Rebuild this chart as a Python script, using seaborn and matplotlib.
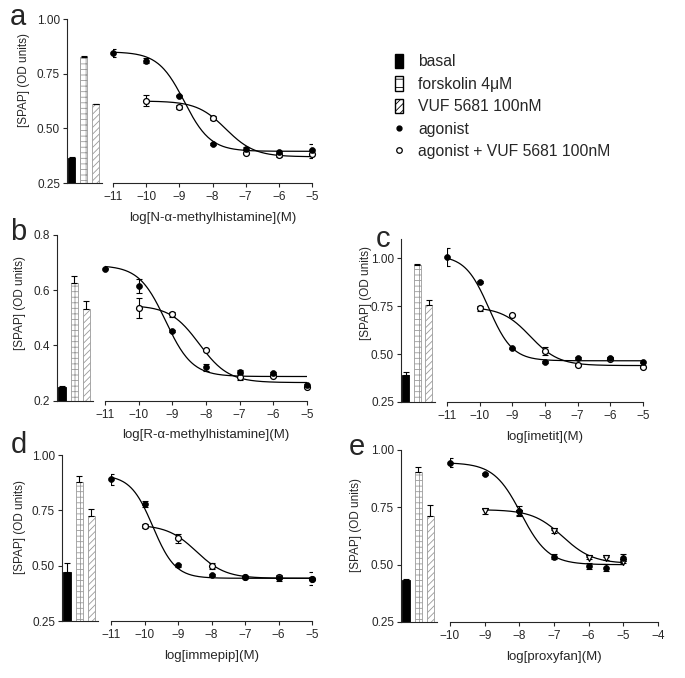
import numpy as np
import pandas as pd
import matplotlib
matplotlib.use("Agg")
import matplotlib.pyplot as plt
import seaborn as sns
from matplotlib.patches import Patch
from matplotlib.lines import Line2D
from matplotlib.ticker import FormatStrFormatter

bar_names = ["basal", "forskolin 4\u03bcM", "VUF 5681 100nM"]

# panel a - N-alpha-methylhistamine
a_bars = [0.364, 0.828, 0.610]
a_bars_err = [0.007, 0.003, 0.003]
a_ago_x = [-11, -10, -9, -8, -7, -6, -5]
a_ago = [0.843, 0.810, 0.650, 0.428, 0.407, 0.390, 0.402]
a_ago_err = [0.018, 0.012, 0.004, 0.004, 0.006, 0.005, 0.025]
a_vuf_x = [-10, -9, -8, -7, -6, -5]
a_vuf = [0.627, 0.597, 0.547, 0.387, 0.376, 0.384]
a_vuf_err = [0.025, 0.010, 0.010, 0.005, 0.005, 0.018]
# fitted curves: top, bottom, logEC50, hill
a_ago_fit = [0.850, 0.395, -8.85, 1.1]
a_vuf_fit = [0.625, 0.370, -7.60, 1.0]

# panel b - R-alpha-methylhistamine
b_bars = [0.248, 0.626, 0.533]
b_bars_err = [0.004, 0.024, 0.027]
b_ago_x = [-11, -10, -9, -8, -7, -6, -5]
b_ago = [0.678, 0.614, 0.452, 0.320, 0.304, 0.300, 0.256]
b_ago_err = [0.003, 0.025, 0.004, 0.013, 0.005, 0.005, 0.005]
b_vuf_x = [-10, -9, -8, -7, -6, -5]
b_vuf = [0.536, 0.512, 0.382, 0.286, 0.290, 0.250]
b_vuf_err = [0.036, 0.010, 0.004, 0.010, 0.005, 0.004]
b_ago_fit = [0.690, 0.287, -9.20, 1.1]
b_vuf_fit = [0.545, 0.265, -8.20, 1.0]

# panel c - imetit
c_bars = [0.390, 0.966, 0.757]
c_bars_err = [0.017, 0.004, 0.023]
c_ago_x = [-11, -10, -9, -8, -7, -6, -5]
c_ago = [1.005, 0.875, 0.529, 0.459, 0.480, 0.480, 0.456]
c_ago_err = [0.046, 0.005, 0.005, 0.005, 0.005, 0.005, 0.005]
c_vuf_x = [-10, -9, -8, -7, -6, -5]
c_vuf = [0.739, 0.703, 0.517, 0.442, 0.476, 0.433]
c_vuf_err = [0.012, 0.005, 0.020, 0.005, 0.005, 0.005]
c_ago_fit = [1.015, 0.465, -9.72, 1.2]
c_vuf_fit = [0.745, 0.440, -8.45, 1.0]

# panel d - immepip
d_bars = [0.472, 0.879, 0.725]
d_bars_err = [0.038, 0.025, 0.033]
d_ago_x = [-11, -10, -9, -8, -7, -6, -5]
d_ago = [0.891, 0.778, 0.502, 0.457, 0.449, 0.445, 0.442]
d_ago_err = [0.025, 0.012, 0.006, 0.005, 0.005, 0.015, 0.030]
d_vuf_x = [-10, -9, -8, -7, -6, -5]
d_vuf = [0.678, 0.623, 0.499, 0.449, 0.449, 0.442]
d_vuf_err = [0.010, 0.020, 0.012, 0.005, 0.005, 0.005]
d_ago_fit = [0.910, 0.443, -9.75, 1.3]
d_vuf_fit = [0.685, 0.443, -8.45, 1.0]

# panel e - proxyfan
e_bars = [0.432, 0.902, 0.714]
e_bars_err = [0.007, 0.023, 0.046]
e_ago_x = [-10, -9, -8, -7, -6, -5.5, -5]
e_ago = [0.945, 0.894, 0.735, 0.535, 0.494, 0.487, 0.531]
e_ago_err = [0.020, 0.005, 0.020, 0.012, 0.015, 0.015, 0.015]
e_vuf_x = [-9, -8, -7, -6, -5.5, -5]
e_vuf = [0.733, 0.724, 0.646, 0.530, 0.527, 0.512]
e_vuf_err = [0.010, 0.010, 0.006, 0.005, 0.005, 0.005]
e_ago_fit = [0.945, 0.500, -7.95, 1.1]
e_vuf_fit = [0.740, 0.505, -6.75, 1.0]

sns.set_style("ticks")
plt.rcParams["font.family"] = ["Liberation Sans", "DejaVu Sans"]
plt.rcParams["hatch.linewidth"] = 0.6
plt.rcParams["axes.linewidth"] = 0.8

W, H = 685, 678
fig = plt.figure(figsize=(W / 100, H / 100), dpi=100)


def box(x0, x1, ytop, ybot):
    return [x0 / W, 1 - ybot / H, (x1 - x0) / W, (ybot - ytop) / H]


def fit_curve(x0, x1, p):
    top, bottom, logec, hill = p
    xs = np.linspace(x0, x1, 200)
    return xs, bottom + (top - bottom) / (1 + 10 ** ((xs - logec) * hill))


panels = [
    dict(letter="a", bar=(67, 102), cur=(113, 312), yy=(19, 183), ylim=(0.25, 1.0),
         yt=[0.25, 0.5, 0.75, 1.0], fmt="%.2f", xlim=(-11, -5),
         xlabel="log[N-\u03b1-methylhistamine](M)", lpos=(17.5, 25), ylpos=(24, 80),
         bars=a_bars, bars_err=a_bars_err, ax_=a_ago_x, ay=a_ago, ae=a_ago_err,
         vx=a_vuf_x, vy=a_vuf, ve=a_vuf_err, af=a_ago_fit, vf=a_vuf_fit, vm="o"),
    dict(letter="b", bar=(57, 93), cur=(105, 307), yy=(235, 400.5), ylim=(0.2, 0.8),
         yt=[0.2, 0.4, 0.6, 0.8], fmt="%.1f", xlim=(-11, -5),
         xlabel="log[R-\u03b1-methylhistamine](M)", lpos=(18.5, 240), ylpos=(20, 303),
         bars=b_bars, bars_err=b_bars_err, ax_=b_ago_x, ay=b_ago, ae=b_ago_err,
         vx=b_vuf_x, vy=b_vuf, ve=b_vuf_err, af=b_ago_fit, vf=b_vuf_fit, vm="o"),
    dict(letter="c", bar=(401, 435), cur=(447, 643), yy=(239, 402), ylim=(0.25, 1.1),
         yt=[0.25, 0.5, 0.75, 1.0], fmt="%.2f", xlim=(-11, -5),
         xlabel="log[imetit](M)", lpos=(383, 247), ylpos=(366, 293),
         bars=c_bars, bars_err=c_bars_err, ax_=c_ago_x, ay=c_ago, ae=c_ago_err,
         vx=c_vuf_x, vy=c_vuf, ve=c_vuf_err, af=c_ago_fit, vf=c_vuf_fit, vm="o"),
    dict(letter="d", bar=(62, 98), cur=(111, 312), yy=(455, 621), ylim=(0.25, 1.0),
         yt=[0.25, 0.5, 0.75, 1.0], fmt="%.2f", xlim=(-11, -5),
         xlabel="log[immepip](M)", lpos=(18.5, 453), ylpos=(20, 527),
         bars=d_bars, bars_err=d_bars_err, ax_=d_ago_x, ay=d_ago, ae=d_ago_err,
         vx=d_vuf_x, vy=d_vuf, ve=d_vuf_err, af=d_ago_fit, vf=d_vuf_fit, vm="o"),
    dict(letter="e", bar=(401, 437), cur=(450, 658), yy=(450, 622), ylim=(0.25, 1.0),
         yt=[0.25, 0.5, 0.75, 1.0], fmt="%.2f", xlim=(-10, -4),
         xlabel="log[proxyfan](M)", lpos=(357, 455), ylpos=(356, 525),
         bars=e_bars, bars_err=e_bars_err, ax_=e_ago_x, ay=e_ago, ae=e_ago_err,
         vx=e_vuf_x, vy=e_vuf, ve=e_vuf_err, af=e_ago_fit, vf=e_vuf_fit, vm="v"),
]

bar_face = ["black", "white", "white"]
bar_edge = ["black", "#9a9a9a", "#9a9a9a"]
bar_hatch = [None, "+++", "/////"]

for p in panels:
    bax = fig.add_axes(box(p["bar"][0], p["bar"][1], p["yy"][0], p["yy"][1]))
    cax = fig.add_axes(box(p["cur"][0], p["cur"][1], p["yy"][0], p["yy"][1]))

    # bars
    bdf = pd.DataFrame({"cond": bar_names, "od": p["bars"]})
    sns.barplot(data=bdf, x="cond", y="od", ax=bax, width=0.6, errorbar=None,
                color="white")
    for patch, fc, ec, h in zip(bax.patches, bar_face, bar_edge, bar_hatch):
        patch.set_facecolor(fc)
        patch.set_edgecolor(ec)
        patch.set_linewidth(0.6)
        if h:
            patch.set_hatch(h)
    bax.errorbar(range(3), p["bars"], yerr=[np.zeros(3), p["bars_err"]],
                 fmt="none", ecolor="black", elinewidth=0.8, capsize=2.5, capthick=0.8)
    bax.set_xlim(-0.42, 2.55)
    bax.set_ylim(*p["ylim"])
    bax.set_yticks(p["yt"])
    bax.yaxis.set_major_formatter(FormatStrFormatter(p["fmt"]))
    bax.set_xticks([])
    bax.set_xlabel("")
    bax.set_ylabel("")
    bax.tick_params(axis="y", direction="out", length=3, width=0.8, labelsize=8.5, pad=2)
    for s in ["top", "right"]:
        bax.spines[s].set_visible(False)
    fig.text(p["ylpos"][0] / W, 1 - p["ylpos"][1] / H, "[SPAP] (OD units)",
             rotation=90, fontsize=8.5, ha="center", va="center")

    # concentration-response
    cax.set_xlim(*p["xlim"])
    cax.set_ylim(*p["ylim"])
    xs, ys = fit_curve(p["ax_"][0], p["ax_"][-1], p["af"])
    sns.lineplot(x=xs, y=ys, ax=cax, color="black", linewidth=0.9)
    xs, ys = fit_curve(p["vx"][0], p["vx"][-1], p["vf"])
    sns.lineplot(x=xs, y=ys, ax=cax, color="black", linewidth=0.9)

    cax.errorbar(p["vx"], p["vy"], yerr=p["ve"], fmt="none", ecolor="black",
                 elinewidth=0.8, capsize=2.2, capthick=0.8)
    sns.scatterplot(x=p["vx"], y=p["vy"], ax=cax, marker=p["vm"], s=18,
                    color="white", edgecolor="black", linewidth=0.9,
                    zorder=4, clip_on=False)
    cax.errorbar(p["ax_"], p["ay"], yerr=p["ae"], fmt="none", ecolor="black",
                 elinewidth=0.8, capsize=2.2, capthick=0.8)
    sns.scatterplot(x=p["ax_"], y=p["ay"], ax=cax, marker="o", s=18,
                    color="black", edgecolor="black", linewidth=0.5,
                    zorder=5, clip_on=False)

    cax.set_xticks(np.arange(p["xlim"][0], p["xlim"][1] + 1))
    cax.set_yticks([])
    cax.set_xlabel(p["xlabel"], fontsize=9.5, labelpad=6)
    cax.tick_params(axis="x", direction="out", length=3, width=0.8, labelsize=8.5, pad=3)
    for s in ["top", "right", "left"]:
        cax.spines[s].set_visible(False)

    fig.text(p["lpos"][0] / W, 1 - p["lpos"][1] / H, p["letter"], fontsize=21,
             ha="center", va="baseline")

handles = [
    Patch(facecolor="black", edgecolor="black"),
    Patch(facecolor="white", edgecolor="black", hatch="--"),
    Patch(facecolor="white", edgecolor="black", hatch="/////"),
    Line2D([], [], marker="o", ls="", color="black", ms=3.5),
    Line2D([], [], marker="o", ls="", mfc="white", mec="black", ms=4, mew=0.9),
]
labels = ["basal", "forskolin 4\u03bcM", "VUF 5681 100nM", "agonist",
          "agonist + VUF 5681 100nM"]
fig.legend(handles, labels, loc="upper left", bbox_to_anchor=(395 / W, 1 - 54 / H),
           frameon=False, fontsize=11.3, handlelength=0.5, handleheight=1.0,
           handletextpad=0.97, labelspacing=0.45, borderpad=0, borderaxespad=0)

fig.savefig("out.png", dpi=100)
